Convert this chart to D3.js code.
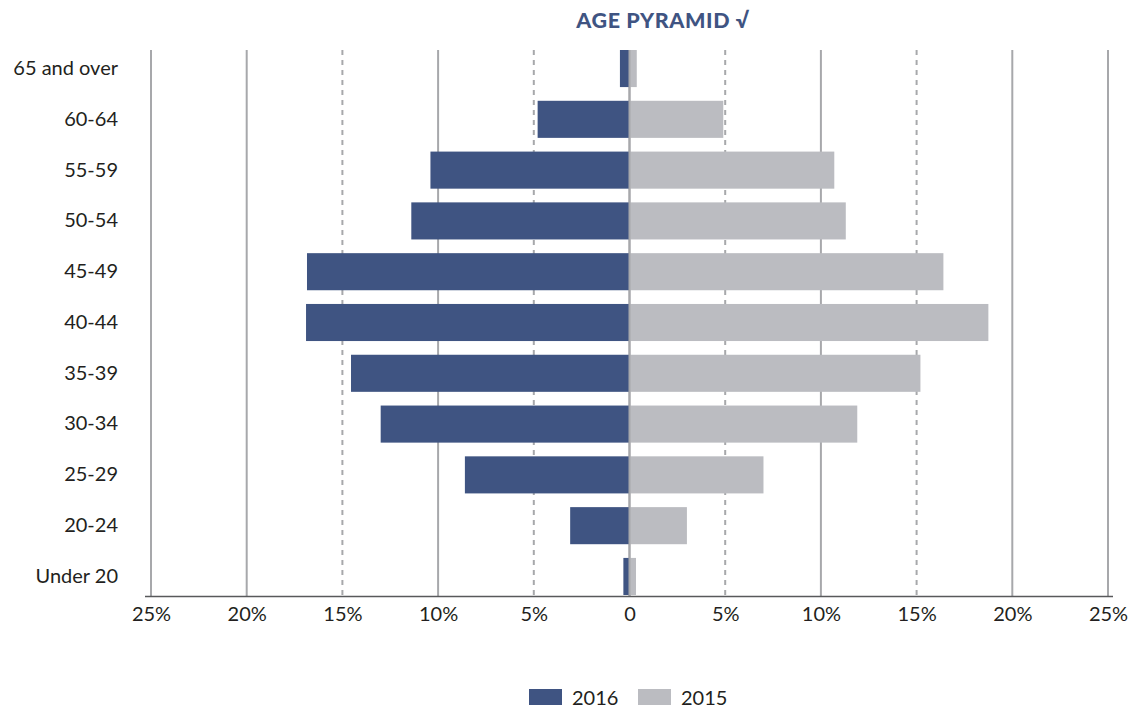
<!DOCTYPE html>
<html>
<head>
<meta charset="utf-8">
<script src="https://cdn.jsdelivr.net/npm/d3@7"></script>
<style>
  body { margin: 0; background: #fff; }
  text { font-family: 'Lato', 'DejaVu Sans', sans-serif; fill: #231f20; }
</style>
</head>
<body>
<div id="chart"></div>
<script>
const ageGroups = ['65 and over', '60-64', '55-59', '50-54', '45-49', '40-44', '35-39', '30-34', '25-29', '20-24', 'Under 20']
const values2016 = [0.5, 4.8, 10.4, 11.4, 16.85, 16.9, 14.55, 13.0, 8.6, 3.1, 0.32]
const values2015 = [0.38, 4.9, 10.7, 11.3, 16.4, 18.75, 15.2, 11.9, 7.0, 3.0, 0.34]
const tickValues = [-25, -20, -15, -10, -5, 0, 5, 10, 15, 20, 25]
const dashedTicks = [-15, -5, 5, 15]
const seriesNames = ['2016', '2015']

const navy = '#3f5482'
const grey = '#bbbcc1'

const width = 1130
const height = 709

const svg = d3
  .select('#chart')
  .append('svg')
  .attr('width', width)
  .attr('height', height)

const xPositionScale = d3.scaleLinear().domain([-25, 25]).range([151, 1108])
const yPositionScale = d3
  .scaleBand()
  .domain(ageGroups)
  .range([50, 595])
  .paddingInner(0.27)
  .paddingOuter(0)

const data = ageGroups.map((g, i) => ({ group: g, v2016: values2016[i], v2015: values2015[i] }))

// grid lines
svg
  .append('g')
  .selectAll('line')
  .data(tickValues)
  .enter()
  .append('line')
  .attr('x1', d => xPositionScale(d))
  .attr('x2', d => xPositionScale(d))
  .attr('y1', 50)
  .attr('y2', 596)
  .attr('stroke', '#a7a8ab')
  .attr('stroke-width', 2)
  .attr('stroke-dasharray', d => (dashedTicks.includes(d) ? '5,5' : null))

// 2016 bars to the left
svg
  .append('g')
  .selectAll('rect')
  .data(data)
  .enter()
  .append('rect')
  .attr('x', d => xPositionScale(-d.v2016))
  .attr('y', d => yPositionScale(d.group))
  .attr('width', d => xPositionScale(0) - xPositionScale(-d.v2016))
  .attr('height', yPositionScale.bandwidth())
  .attr('fill', navy)

// 2015 bars to the right
svg
  .append('g')
  .selectAll('rect')
  .data(data)
  .enter()
  .append('rect')
  .attr('x', xPositionScale(0))
  .attr('y', d => yPositionScale(d.group))
  .attr('width', d => xPositionScale(d.v2015) - xPositionScale(0))
  .attr('height', yPositionScale.bandwidth())
  .attr('fill', grey)

// zero line on top
svg
  .append('line')
  .attr('x1', xPositionScale(0))
  .attr('x2', xPositionScale(0))
  .attr('y1', 50)
  .attr('y2', 596)
  .attr('stroke', '#a7a8ab')
  .attr('stroke-width', 2)

// x axis
const xAxis = d3
  .axisBottom(xPositionScale)
  .tickValues(tickValues)
  .tickSize(0)
  .tickPadding(10)
  .tickFormat(d => (d === 0 ? '0' : Math.abs(d) + '%'))
const xg = svg
  .append('g')
  .attr('class', 'axis x-axis')
  .attr('transform', 'translate(0,597)')
  .call(xAxis)
xg.select('.domain').remove()
xg.selectAll('text').attr('font-size', 20).attr('fill', '#231f20')
  .style('font-family', "'Lato', 'DejaVu Sans', sans-serif")
svg
  .append('line')
  .attr('x1', 145)
  .attr('x2', 1113)
  .attr('y1', 596.5)
  .attr('y2', 596.5)
  .attr('stroke', '#58595b')
  .attr('stroke-width', 1.5)

// y axis labels
const yAxis = d3.axisLeft(yPositionScale).tickSize(0).tickPadding(0)
const yg = svg
  .append('g')
  .attr('class', 'axis y-axis')
  .attr('transform', 'translate(118,0)')
  .call(yAxis)
yg.select('.domain').remove()
yg.selectAll('text').attr('font-size', 20).attr('fill', '#231f20')
  .style('font-family', "'Lato', 'DejaVu Sans', sans-serif")

// title
svg
  .append('text')
  .text('AGE PYRAMID √')
  .attr('x', 663)
  .attr('y', 28)
  .attr('text-anchor', 'middle')
  .attr('font-size', 21.5)
  .attr('font-weight', 900)
  .attr('letter-spacing', 0.6)
  .style('fill', navy)

// legend
const legend = svg
  .append('g')
  .selectAll('g')
  .data(seriesNames)
  .enter()
  .append('g')
  .attr('transform', (d, i) => 'translate(' + (529 + i * 109) + ',689)')
legend
  .append('rect')
  .attr('width', 33)
  .attr('height', 16)
  .attr('fill', (d, i) => (i === 0 ? navy : grey))
legend
  .append('text')
  .text(d => d)
  .attr('x', 43)
  .attr('y', 16)
  .attr('font-size', 20)
</script>
</body>
</html>
